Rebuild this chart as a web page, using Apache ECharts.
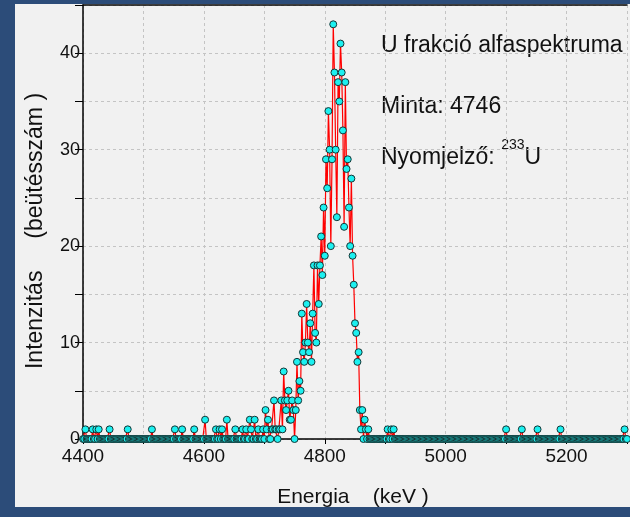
<!DOCTYPE html>
<html>
<head>
<meta charset="utf-8">
<script src="https://cdn.jsdelivr.net/npm/echarts@6/dist/echarts.min.js"></script>
<style>
html, body { margin: 0; padding: 0; width: 630px; height: 517px; overflow: hidden; background: #2c4c79; }
#chart { position: absolute; left: 15px; top: 4px; width: 615px; height: 503px; background: #f1f1f1; }
</style>
</head>
<body>
<div id="chart"></div>
<script>
// csatornák: 2 keV-es lépés, három szakaszban
const channelStep = 2
const lowStart = 4400   // 4400 .. 4694
const peakStart = 4696  // 4696 .. 4874
const highStart = 4876  // 4876 .. 5300

const lowCounts = [
  0, 0, 1, 0, 0, 0, 0, 0, 1, 0,
  0, 1, 0, 1, 0, 0, 0, 0, 0, 0,
  0, 0, 1, 0, 0, 0, 0, 0, 0, 0,
  0, 0, 0, 0, 0, 0, 0, 1, 0, 0,
  0, 0, 0, 0, 0, 0, 0, 0, 0, 0,
  0, 0, 0, 0, 0, 0, 0, 1, 0, 0,
  0, 0, 0, 0, 0, 0, 0, 0, 0, 0,
  0, 0, 0, 0, 0, 0, 1, 0, 0, 0,
  0, 0, 1, 0, 0, 0, 0, 0, 0, 0,
  0, 0, 1, 0, 0, 0, 0, 0, 0, 0,
  0, 2, 0, 0, 0, 0, 0, 0, 0, 0,
  1, 0, 0, 1, 0, 1, 0, 0, 0, 2,
  0, 0, 0, 0, 0, 0, 1, 0, 0, 0,
  0, 0, 1, 0, 0, 1, 0, 0, 2, 1,
  0, 0, 2, 0, 0, 1, 0, 0
]

const peakCounts = [
  0, 1, 0, 3, 1, 2, 0, 0, 1, 1,
  4, 1, 1, 0, 1, 1, 4, 1, 7, 4,
  3, 4, 5, 2, 2, 4, 3, 0, 3, 8,
  4, 6, 5, 13, 9, 8, 10, 14, 10, 9,
  12, 8, 13, 18, 11, 10, 18, 14, 18, 21,
  17, 24, 19, 29, 26, 34, 30, 20, 29, 43,
  38, 30, 23, 37, 35, 41, 38, 32, 22, 37,
  28, 29, 24, 20, 27, 19, 16, 12, 11, 8,
  9, 3, 1, 3, 0, 2, 1, 0, 1, 0
]

const highCounts = [
  0, 0, 0, 0, 0, 0, 0, 0, 0, 0,
  0, 0, 0, 0, 1, 0, 0, 1, 0, 1,
  0, 0, 0, 0, 0, 0, 0, 0, 0, 0,
  0, 0, 0, 0, 0, 0, 0, 0, 0, 0,
  0, 0, 0, 0, 0, 0, 0, 0, 0, 0,
  0, 0, 0, 0, 0, 0, 0, 0, 0, 0,
  0, 0, 0, 0, 0, 0, 0, 0, 0, 0,
  0, 0, 0, 0, 0, 0, 0, 0, 0, 0,
  0, 0, 0, 0, 0, 0, 0, 0, 0, 0,
  0, 0, 0, 0, 0, 0, 0, 0, 0, 0,
  0, 0, 0, 0, 0, 0, 0, 0, 0, 0,
  0, 0, 1, 0, 0, 0, 0, 0, 0, 0,
  0, 0, 0, 0, 0, 1, 0, 0, 0, 0,
  0, 0, 0, 0, 0, 0, 0, 0, 1, 0,
  0, 0, 0, 0, 0, 0, 0, 0, 0, 0,
  0, 0, 0, 0, 0, 0, 0, 1, 0, 0,
  0, 0, 0, 0, 0, 0, 0, 0, 0, 0,
  0, 0, 0, 0, 0, 0, 0, 0, 0, 0,
  0, 0, 0, 0, 0, 0, 0, 0, 0, 0,
  0, 0, 0, 0, 0, 0, 0, 0, 0, 0,
  0, 0, 0, 0, 0, 0, 0, 0, 0, 0,
  1, 0, 0
]

const titleLines = ['U frakció alfaspektruma', 'Minta: 4746']
const xTitle = 'Energia    (keV )'
const yTitle = 'Intenzitás     (beütésszám )'

// [energia, beütés] párok
const toPoints = (start, arr) => arr.map((c, i) => [start + i * channelStep, c])
const points = [
  ...toPoints(lowStart, lowCounts),
  ...toPoints(peakStart, peakCounts),
  ...toPoints(highStart, highCounts)
]

const font = '"Liberation Sans", Arial, sans-serif'
const myChart = echarts.init(document.getElementById('chart'))

const option = {
  animation: false,
  grid: { left: 68, top: 1, right: 0, bottom: 68 },
  xAxis: [
    {
      type: 'value',
      min: 4400,
      max: 5300,
      interval: 100,
      axisLine: { lineStyle: { color: '#000', width: 1.5 } },
      axisTick: { length: 5, lineStyle: { color: '#000' } },
      axisLabel: {
        color: '#111', fontSize: 19, fontFamily: font, margin: 8,
        formatter: v => (v % 200 === 0 ? v : '')
      },
      splitLine: { show: true, lineStyle: { color: '#c4c4c4', type: [3, 3] } }
    },
    {
      // felső keretvonal
      type: 'value',
      position: 'top',
      min: 4400,
      max: 5300,
      axisLine: { show: true, lineStyle: { color: '#000', width: 1.5 } },
      axisTick: { show: false },
      axisLabel: { show: false },
      splitLine: { show: false }
    }
  ],
  yAxis: {
    type: 'value',
    min: 0,
    max: 45,
    interval: 5,
    axisLine: { show: true, lineStyle: { color: '#000', width: 1.5 } },
    axisTick: { show: true, length: 8, lineStyle: { color: '#000' } },
    axisLabel: {
      color: '#111', fontSize: 18, fontFamily: font, margin: 3,
      formatter: v => (v % 10 === 0 && v < 45 ? v : '')
    },
    splitLine: { show: true, lineStyle: { color: '#c4c4c4', type: [3, 3] } }
  },
  graphic: [
    {
      type: 'text', left: 366, top: 30,
      style: { text: titleLines[0], fontSize: 23, fontFamily: font, fill: '#111' }
    },
    {
      type: 'text', left: 366, top: 91,
      style: { text: titleLines[1], fontSize: 23, fontFamily: font, fill: '#111' }
    },
    {
      type: 'text', left: 366, top: 134,
      style: {
        text: '{n|Nyomjelző: }{s|233}{n|U}',
        fontFamily: font,
        fill: '#111',
        rich: {
          n: { fontSize: 23, lineHeight: 31, fontFamily: font, fill: '#111', verticalAlign: 'bottom' },
          s: { fontSize: 14, lineHeight: 14, fontFamily: font, fill: '#111', verticalAlign: 'top' }
        }
      }
    },
    {
      type: 'text', x: 338, y: 493,
      style: { text: xTitle, fontSize: 21, fontFamily: font, fill: '#111', align: 'center', verticalAlign: 'middle' }
    },
    {
      type: 'text', x: 21, y: 227, rotation: Math.PI / 2,
      style: { text: yTitle, fontSize: 23, fontFamily: font, fill: '#111', align: 'center', verticalAlign: 'middle' }
    }
  ],
  series: [
    {
      type: 'line',
      xAxisIndex: 0,
      data: points,
      showAllSymbol: true,
      symbol: 'circle',
      symbolSize: 7,
      itemStyle: { color: '#1cf0f0', borderColor: '#143434', borderWidth: 1 },
      lineStyle: { color: '#ff0000', width: 1.2 },
      z: 3
    }
  ]
}

myChart.setOption(option)
</script>
</body>
</html>
